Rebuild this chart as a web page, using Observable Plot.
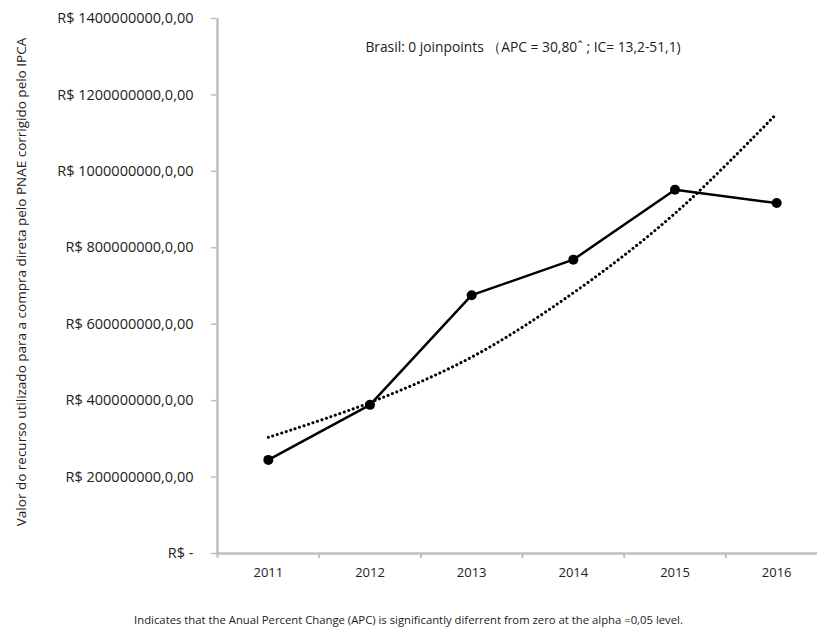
<!DOCTYPE html>
<html>
<head>
<meta charset="utf-8">
<script src="https://cdn.jsdelivr.net/npm/d3@7"></script>
<script src="https://cdn.jsdelivr.net/npm/@observablehq/plot@0.6"></script>
<style>
  body { margin: 0; background: #fff; font-family: "Open Sans", sans-serif; }
  #wrap { position: relative; width: 817px; height: 627px; }
  #caption { position: absolute; left: 0; width: 817px; top: 611px; text-align: center; font-size: 11.3px; color: #222; line-height: 18px; }
</style>
</head>
<body>
<div id="wrap">
  <div id="chart"></div>
  <div id="caption">Indicates that the Anual Percent Change (APC) is significantly diferrent from zero at the alpha =0,05 level.</div>
</div>
<script>
const years = [2011, 2012, 2013, 2014, 2015, 2016];
const observed = [245e6, 389e6, 676e6, 769e6, 952e6, 917e6];
const trend = [304e6, 395e6, 514e6, 682e6, 890e6, 1151e6];
const yTicks = [0, 200e6, 400e6, 600e6, 800e6, 1000e6, 1200e6, 1400e6];
const yTitle = "Valor do recurso utilizado para a compra direta pelo PNAE corrigido pelo IPCA";
const annotation = "Brasil: 0 joinpoints （APC = 30,80ˆ ; IC= 13,2-51,1)";

const obsData = years.map((x, i) => ({x, y: observed[i]}));
const trendData = years.map((x, i) => ({x, y: trend[i]}));
const bounds = [years[0] - 0.5, ...years.map(y => y + 0.5)];

const fmtY = d => d === 0 ? "R$ -" : `R$ ${d},0,00`;
const axisColor = "#bfbfbf";

const chart = Plot.plot({
  width: 817,
  height: 600,
  marginTop: 18,
  marginBottom: 47,
  marginLeft: 216,
  marginRight: 0,
  style: { fontFamily: "Open Sans, sans-serif", fontSize: "13px", color: "#222", background: "#fff" },
  x: { type: "linear", domain: [years[0] - 0.5, years[years.length - 1] + 0.5], range: [217, 827] },
  y: { domain: [0, 1400e6], range: [553, 18] },
  marks: [
    Plot.axisY({ ticks: yTicks, tickFormat: fmtY, tickSize: 5, tickPadding: 18, stroke: axisColor, strokeWidth: 1.5, fontSize: 14.5, label: null }),
    Plot.axisX({ ticks: bounds, tickFormat: () => "", tickSize: 5, stroke: axisColor, strokeWidth: 2, label: null }),
    Plot.axisX({ ticks: years, tickFormat: d => String(d), tickSize: 0, tickPadding: 14, fontSize: 13, label: null }),
    Plot.ruleX([bounds[0]], { stroke: axisColor, strokeWidth: 2.5 }),
    Plot.ruleY([0], { stroke: axisColor, strokeWidth: 2.5 }),
    Plot.line(trendData, { x: "x", y: "y", curve: "catmull-rom", stroke: "#000", strokeWidth: 3, strokeDasharray: "0.1 4.6", strokeLinecap: "round" }),
    Plot.line(obsData, { x: "x", y: "y", stroke: "#000", strokeWidth: 2.5 }),
    Plot.dot(obsData, { x: "x", y: "y", r: 5, fill: "#000" }),
    Plot.text([annotation], { frameAnchor: "top", dx: 6, dy: 24, fontSize: 13.8, fill: "#222" }),
    Plot.text([yTitle], { frameAnchor: "left", textAnchor: "middle", rotate: -90, dx: -195, dy: -4, fontSize: 13.5, fill: "#222" })
  ]
});
document.getElementById("chart").appendChild(chart);
</script>
</body>
</html>
